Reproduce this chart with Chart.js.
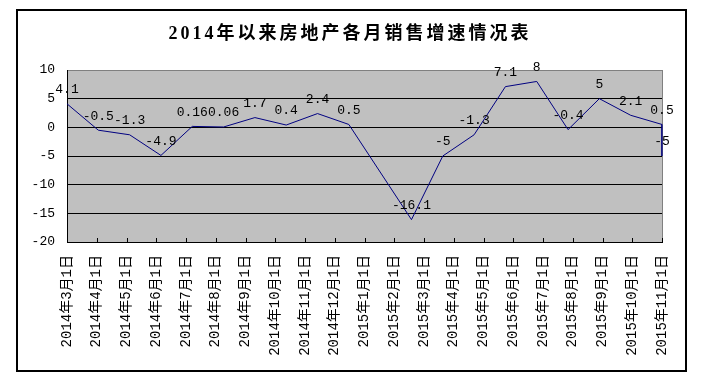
<!DOCTYPE html>
<html>
<head>
<meta charset="utf-8">
<script src="https://cdn.jsdelivr.net/npm/chart.js@4"></script>
<style>
  html, body { margin: 0; padding: 0; background: #fff; }
  canvas { display: block; }
</style>
</head>
<body>
<canvas id="chart" width="702" height="381"></canvas>
<script>
// 月份（横轴刻度）
const months = ['2014年3月1日', '2014年4月1日', '2014年5月1日', '2014年6月1日', '2014年7月1日',
  '2014年8月1日', '2014年9月1日', '2014年10月1日', '2014年11月1日', '2014年12月1日',
  '2015年1月1日', '2015年2月1日', '2015年3月1日', '2015年4月1日', '2015年5月1日',
  '2015年6月1日', '2015年7月1日', '2015年8月1日', '2015年9月1日', '2015年10月1日', '2015年11月1日'];
// 销售增速（%），2015年1月无数据
const growth = [4.1, -0.5, -1.3, -4.9, 0.16, 0.06, 1.7, 0.4, 2.4, 0.5,
  null, -16.1, -5, -1.3, 7.1, 8, -0.4, 5, 2.1, 0.5, -5];
const yTicks = [-20, -15, -10, -5, 0, 5, 10];
const title = '2014年以来房地产各月销售增速情况表';

// 原图中折线按20个位置等分，最后一个值落在最后位置上
const seriesMonths = months.slice(0, -1);
const points = growth.map((v, i) => ({ x: seriesMonths[Math.min(i, seriesMonths.length - 1)], y: v }));

const tickFont = '"Liberation Mono", "Noto Sans CJK SC"';

const frame = {
  id: 'frame',
  beforeDraw(c) {
    const ctx = c.ctx, a = c.chartArea;
    ctx.save();
    ctx.fillStyle = '#fff';
    ctx.fillRect(0, 0, c.width, c.height);
    ctx.strokeStyle = '#000';
    ctx.lineWidth = 2;
    ctx.strokeRect(17, 10, 669, 361);
    ctx.fillStyle = '#c0c0c0';
    ctx.fillRect(a.left, a.top, a.right - a.left, a.bottom - a.top);
    ctx.restore();
  },
  beforeDatasetsDraw(c) {
    const ctx = c.ctx, a = c.chartArea, x = c.scales.x;
    ctx.save();
    ctx.strokeStyle = '#808080';
    ctx.lineWidth = 1;
    ctx.beginPath();
    ctx.moveTo(Math.round(a.right) + 0.5, a.top);
    ctx.lineTo(Math.round(a.right) + 0.5, a.bottom);
    ctx.stroke();
    // 内侧刻度线
    ctx.strokeStyle = '#000';
    ctx.beginPath();
    for (let i = 1; i < x.ticks.length; i++) {
      const px = Math.round(x.getPixelForTick(i)) + 0.5;
      ctx.moveTo(px, a.bottom);
      ctx.lineTo(px, a.bottom - 4);
    }
    ctx.stroke();
    ctx.restore();
  },
  afterDraw(c) {
    const ctx = c.ctx;
    ctx.save();
    ctx.font = 'bold 18px "Liberation Serif", "Noto Sans CJK SC"';
    ctx.letterSpacing = '3px';
    ctx.fillStyle = '#000';
    ctx.textAlign = 'center';
    ctx.textBaseline = 'middle';
    ctx.fillText(title, 350, 34);
    ctx.restore();
  }
};

const valueLabels = {
  id: 'valueLabels',
  afterDatasetsDraw(c) {
    const ctx = c.ctx;
    const meta = c.getDatasetMeta(0);
    ctx.save();
    ctx.font = '13px ' + tickFont;
    ctx.fillStyle = '#000';
    ctx.textAlign = 'center';
    ctx.textBaseline = 'middle';
    meta.data.forEach((pt, i) => {
      if (growth[i] === null) return;
      ctx.fillText(String(growth[i]), pt.x, pt.y - 14);
    });
    ctx.restore();
  }
};

new Chart(document.getElementById('chart'), {
  type: 'line',
  data: {
    labels: months,
    datasets: [{
      data: points,
      xAxisID: 'xd',
      borderColor: '#000080',
      borderWidth: 1,
      pointRadius: 0,
      spanGaps: true,
      tension: 0
    }]
  },
  options: {
    responsive: false,
    animation: false,
    devicePixelRatio: 1,
    layout: { padding: { top: 70, left: 17, right: 40, bottom: 10 } },
    plugins: { legend: { display: false }, tooltip: { enabled: false } },
    scales: {
      x: {
        type: 'category',
        labels: months,
        offset: false,
        grid: { drawOnChartArea: false, drawTicks: false },
        border: { color: '#000', width: 1 },
        ticks: {
          autoSkip: false, minRotation: 90, maxRotation: 90, padding: 13,
          color: '#000', font: { family: tickFont, size: 14 }
        },
        afterFit(s) { s.height = 129; }
      },
      xd: {
        type: 'category',
        labels: seriesMonths,
        offset: false,
        display: false
      },
      y: {
        min: -20,
        max: 10,
        afterBuildTicks(s) { s.ticks = yTicks.map(v => ({ value: v })); },
        grid: {
          drawTicks: false,
          color: ctx => (ctx.tick && ctx.tick.value === 10 ? '#808080' : '#000')
        },
        border: { color: '#000', width: 1 },
        ticks: { padding: 12, color: '#000', font: { family: tickFont, size: 13 } },
        afterFit(s) { s.width = 50; }
      }
    }
  },
  plugins: [frame, valueLabels]
});
</script>
</body>
</html>
